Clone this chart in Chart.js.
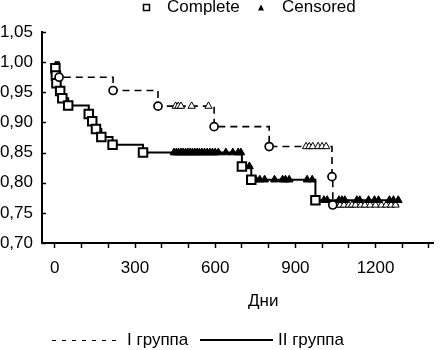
<!DOCTYPE html>
<html>
<head>
<meta charset="utf-8">
<script src="https://cdn.jsdelivr.net/npm/chart.js@4/dist/chart.umd.min.js"></script>
<style>
  body { margin: 0; background: #fff; }
  #wrap { position: relative; width: 441px; height: 350px; font-family: "Liberation Sans", Arial, sans-serif; color: #000; }
  #wrap canvas, #wrap svg { position: absolute; left: 0; top: 0; }
  .t { position: absolute; font-size: 17px; line-height: 17px; white-space: nowrap; }
</style>
</head>
<body>
<div id="wrap">
  <canvas id="km" width="441" height="350"></canvas>
  <svg width="441" height="350">
    <rect x="143.5" y="4.5" width="6" height="6" fill="#fff" stroke="#000" stroke-width="1.5"/>
    <polygon points="258,10.5 264,10.5 261,4.5" fill="#000"/>
    <line x1="52" y1="340.5" x2="122" y2="340.5" stroke="#000" stroke-width="1" stroke-dasharray="4 6"/>
    <line x1="200" y1="340" x2="273" y2="340" stroke="#000" stroke-width="2"/>
  </svg>
  <div class="t" style="left:167px;top:-2px">Complete</div>
  <div class="t" style="left:282px;top:-2px">Censored</div>
  <div class="t" style="left:248px;top:292px">Дни</div>
  <div class="t" style="left:127px;top:331px">I группа</div>
  <div class="t" style="left:278px;top:331px">II группа</div>
</div>
<script>
// Group I (dashed, circles = events, hollow triangles = censored)
const g1Days = [16, 218, 386, 596, 802, 1037, 1040];
const g1Surv = [0.975, 0.953, 0.927, 0.893, 0.86, 0.81, 0.763];
const g1Cens = [452, 462, 472, 512, 575, 940, 952, 965, 985, 1000, 1015,
  1055, 1068, 1082, 1100, 1112, 1125, 1145, 1160, 1180, 1200, 1222, 1240, 1258, 1275];
const g1End = 1290;

// Group II (solid, squares = events, filled triangles = censored)
const g2Days = [2, 4, 6, 20, 28, 50, 127, 140, 154, 174, 216, 330, 700, 735, 975];
const g2Surv = [0.99, 0.978, 0.965, 0.952, 0.94, 0.928, 0.914, 0.902, 0.889, 0.876, 0.863, 0.85, 0.827, 0.805, 0.771];
const g2Cens = [446, 455, 463, 472, 480, 489, 498, 506, 515, 524, 533, 541, 550, 560, 570, 580, 590, 600, 612, 640, 666, 686, 696,
  728, 752, 767, 785, 822, 852, 863, 877, 944, 963,
  1007, 1019, 1063, 1074, 1085, 1130, 1141, 1174, 1196, 1211, 1252, 1267, 1285];
const g2End = 1290;

const xLabelEvery = 300;

// survival level of a curve at day t (censor marks sit on the curve)
function survAt(t, days, surv) {
  let s = 1;
  days.forEach((d, i) => { if (d <= t) s = surv[i]; });
  return s;
}
function curve(days, surv, end) {
  const pts = [{x: 0, y: 1}];
  days.forEach((d, i) => pts.push({x: d, y: surv[i]}));
  pts.push({x: end, y: surv[surv.length - 1]});
  return pts;
}
const events = (days, surv) => days.map((d, i) => ({x: d, y: surv[i]}));
const cens = (c, days, surv) => c.map(t => ({x: t, y: survAt(t, days, surv)}));

// short inward ticks on the y axis
const yTickMarks = {
  id: 'yTickMarks',
  afterDraw(chart) {
    const {ctx} = chart, y = chart.scales.y, left = chart.chartArea.left;
    ctx.save();
    ctx.strokeStyle = '#000';
    ctx.lineWidth = 1.5;
    y.ticks.forEach(t => {
      const py = Math.round(y.getPixelForValue(t.value)) + 0.5;
      ctx.beginPath(); ctx.moveTo(left, py); ctx.lineTo(left + 4, py); ctx.stroke();
    });
    ctx.restore();
  }
};

new Chart(document.getElementById('km'), {
  type: 'scatter',
  data: {
    datasets: [
      { label: 'I events', data: events(g1Days, g1Surv), pointStyle: 'circle', pointRadius: 4,
        pointBackgroundColor: '#fff', pointBorderColor: '#000', pointBorderWidth: 1.7, order: 0 },
      { label: 'II events', data: events(g2Days, g2Surv), pointStyle: 'rect', pointRadius: 6,
        pointBackgroundColor: '#fff', pointBorderColor: '#000', pointBorderWidth: 2, order: 0 },
      { label: 'II censored', data: cens(g2Cens, g2Days, g2Surv), pointStyle: 'triangle', pointRadius: 4.5,
        pointBackgroundColor: '#000', pointBorderColor: '#000', pointBorderWidth: 1, order: 1 },
      { label: 'I censored', data: cens(g1Cens, g1Days, g1Surv), pointStyle: 'triangle', pointRadius: 4.2,
        pointBackgroundColor: '#fff', pointBorderColor: '#000', pointBorderWidth: 1, order: 1 },
      { label: 'I группа', data: curve(g1Days, g1Surv, g1End), showLine: true, stepped: true,
        borderColor: '#000', borderWidth: 1.6, borderDash: [7, 5], pointRadius: 0, order: 2 },
      { label: 'II группа', data: curve(g2Days, g2Surv, g2End), showLine: true, stepped: true,
        borderColor: '#000', borderWidth: 2, pointRadius: 0, order: 3 }
    ]
  },
  options: {
    responsive: false,
    animation: false,
    layout: { padding: { left: 0, right: 4, top: 32, bottom: 0 } },
    plugins: { legend: { display: false }, tooltip: { enabled: false } },
    scales: {
      x: {
        type: 'linear', min: -48, max: 1415,
        afterFit: s => { s.height = 107; },
        afterBuildTicks: s => { s.ticks = s.ticks.filter(t => t.value % 100 === 0); },
        ticks: { stepSize: 100, includeBounds: false, color: '#000', padding: 10, maxRotation: 0, autoSkip: false,
          font: { family: '"Liberation Sans", Arial, sans-serif', size: 17 },
          callback: v => (v >= 0 && v % xLabelEvery === 0 ? String(v) : '') },
        grid: { drawOnChartArea: false, drawTicks: true, tickLength: 5, tickColor: '#000', tickWidth: 1.5 },
        border: { color: '#000', width: 2 }
      },
      y: {
        min: 0.7, max: 1.05,
        afterFit: s => { s.width = 42; },
        ticks: { stepSize: 0.05, color: '#000', padding: 9,
          font: { family: '"Liberation Sans", Arial, sans-serif', size: 17 },
          callback: v => v.toFixed(2).replace('.', ',') },
        grid: { drawOnChartArea: false, drawTicks: false },
        border: { color: '#000', width: 2 }
      }
    }
  },
  plugins: [yTickMarks]
});
</script>
</body>
</html>
